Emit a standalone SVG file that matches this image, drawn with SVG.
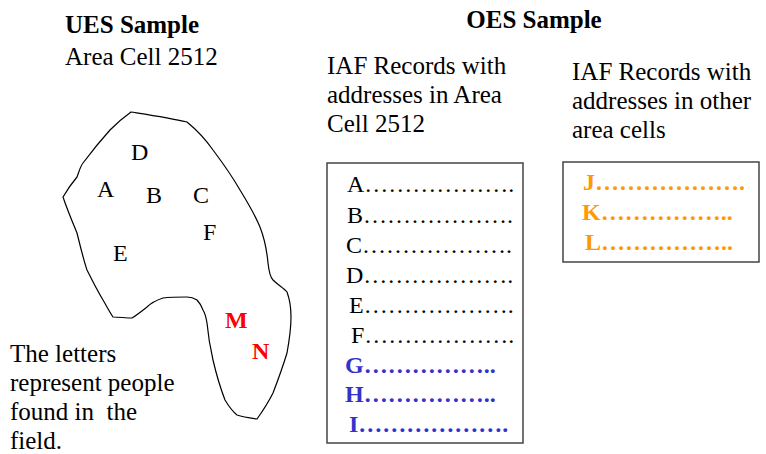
<svg xmlns="http://www.w3.org/2000/svg" width="766" height="454" viewBox="0 0 766 454">
  <rect width="766" height="454" fill="#fff"/>

  <!-- UES side -->
  <g id="ues-title">
    <text x="65" y="33" font-family="Liberation Serif, serif" font-size="25" font-weight="bold">UES Sample</text>
    <text x="65" y="65" font-family="Liberation Serif, serif" font-size="25">Area Cell 2512</text>
  </g>

  <g id="area-cell">
    <!-- outline of the surveyed area cell -->
    <path fill="#fff" stroke="#000" stroke-width="1.2" d="M131,112 C150,115 170,118 187,122 C198,131 206,140 213,150 C222,162 232,176 240,190 C248,203 255,215 260,227 C265,240 267,252 268,263 C269,272 270,277 273,280 C278,285 284,288 287,292 C290,300 291,308 291,317 C291,330 289,342 287,353 C283,366 278,380 273,393 C268,403 262,412 257,419 C250,418 243,417 237,415 C232,411 228,405 225,400 C220,387 216,373 213,360 C210,347 208,334 207,323 C206,317 205,313 203,310 C201,305 199,302 197,300 C194,298 190,297 187,297 C179,297 171,297 163,298 C157,300 151,303 147,307 C142,311 137,315 132,318 C126,318 119,317 113,317 C109,311 106,305 103,300 C97,290 92,280 87,270 C83,258 80,245 77,233 C72,221 67,209 63,197 C67,190 72,183 77,177 C79,172 80,167 83,163 C92,151 101,140 110,130 C117,123 124,117 131,112 Z"/>
    <text x="131" y="160" font-family="Liberation Serif, serif" font-size="24">D</text>
    <text x="97" y="197" font-family="Liberation Serif, serif" font-size="24">A</text>
    <text x="146" y="203" font-family="Liberation Serif, serif" font-size="24">B</text>
    <text x="193" y="203" font-family="Liberation Serif, serif" font-size="24">C</text>
    <text x="203" y="240" font-family="Liberation Serif, serif" font-size="24">F</text>
    <text x="113" y="261" font-family="Liberation Serif, serif" font-size="24">E</text>
    <text x="225" y="328" font-family="Liberation Serif, serif" font-size="24" font-weight="bold" fill="#ff0000">M</text>
    <text x="252" y="359" font-family="Liberation Serif, serif" font-size="24" font-weight="bold" fill="#ff0000">N</text>
  </g>

  <g id="note">
    <text x="10" y="362" font-family="Liberation Serif, serif" font-size="25">The letters</text>
    <text x="10" y="391" font-family="Liberation Serif, serif" font-size="25">represent people</text>
    <text x="10" y="420" font-family="Liberation Serif, serif" font-size="25">found in&#160; the</text>
    <text x="10" y="449" font-family="Liberation Serif, serif" font-size="25">field.</text>
  </g>

  <!-- OES side -->
  <g id="oes-title">
    <text x="534" y="28" font-family="Liberation Serif, serif" font-size="25" font-weight="bold" text-anchor="middle">OES Sample</text>
  </g>

  <g id="records-in-cell">
    <text x="327" y="74" font-family="Liberation Serif, serif" font-size="25">IAF Records with</text>
    <text x="327" y="103" font-family="Liberation Serif, serif" font-size="25">addresses in Area</text>
    <text x="327" y="132" font-family="Liberation Serif, serif" font-size="25">Cell 2512</text>
    <rect x="327" y="163" width="196" height="280" fill="#fff" stroke="#444" stroke-width="1.5"/>
    <text x="347" y="192" font-family="Liberation Serif, serif" font-size="24">A……………….</text>
    <text x="347" y="223" font-family="Liberation Serif, serif" font-size="24">B……………….</text>
    <text x="346" y="253" font-family="Liberation Serif, serif" font-size="24">C……………….</text>
    <text x="346" y="283" font-family="Liberation Serif, serif" font-size="24">D……………….</text>
    <text x="349" y="313" font-family="Liberation Serif, serif" font-size="24">E……………….</text>
    <text x="351" y="343" font-family="Liberation Serif, serif" font-size="24">F……………….</text>
    <text x="345" y="373" font-family="Liberation Serif, serif" font-size="24" font-weight="bold" fill="#3333cc">G……………..</text>
    <text x="345" y="402" font-family="Liberation Serif, serif" font-size="24" font-weight="bold" fill="#3333cc">H……………..</text>
    <text x="349" y="432" font-family="Liberation Serif, serif" font-size="24" font-weight="bold" fill="#3333cc">I……………….</text>
  </g>

  <g id="records-other-cells">
    <text x="572" y="80" font-family="Liberation Serif, serif" font-size="25">IAF Records with</text>
    <text x="572" y="109" font-family="Liberation Serif, serif" font-size="25">addresses in other</text>
    <text x="572" y="138" font-family="Liberation Serif, serif" font-size="25">area cells</text>
    <rect x="563" y="162" width="196" height="100" fill="#fff" stroke="#444" stroke-width="1.5"/>
    <text x="583" y="190" font-family="Liberation Serif, serif" font-size="24" font-weight="bold" fill="#ff9900">J……………….</text>
    <text x="582" y="220" font-family="Liberation Serif, serif" font-size="24" font-weight="bold" fill="#ff9900">K……………..</text>
    <text x="585" y="250" font-family="Liberation Serif, serif" font-size="24" font-weight="bold" fill="#ff9900">L……………..</text>
  </g>
</svg>
